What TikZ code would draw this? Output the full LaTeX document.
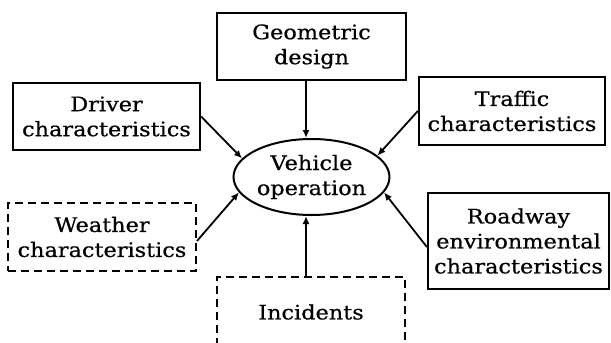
\documentclass[tikz,border=0pt]{standalone}
\usepackage{fontspec}
\setmainfont[FakeStretch=1.12,FakeBold=0.6]{DejaVu Serif}
\usetikzlibrary{positioning,shapes.geometric,arrows.meta}

\begin{document}
\begin{tikzpicture}[
            x=1pt, y=-1pt,
            factor/.style={rectangle, draw, line width=2.2pt, inner sep=0pt,
                       align=center, font=\fontsize{20}{25}\selectfont},
            unknown/.style={factor, line width=1.9pt, dash pattern=on 8pt off 5pt},
            outcome/.style={ellipse, draw, line width=2pt, inner sep=0pt,
                       minimum width=156pt, minimum height=76pt,
                       align=center, font=\fontsize{20}{25}\selectfont},
            arrow/.style={-{Latex[length=8pt,width=7pt]}, line width=1.8pt}
        ]
            \useasboundingbox (0,0) rectangle (611,343);
            \clip (0,0) rectangle (611,343);

            % Centre: what is influenced
            \node[outcome] (vehicle) at (311.5,177) {Vehicle\\operation};

            % Influencing factors
            \node[factor, minimum width=189pt, minimum height=67pt] (geometry) at (311.5,46.5) {Geometric\\design};
            \node[factor, minimum width=187pt, minimum height=67pt] (driver) at (106.5,116.5) {Driver\\characteristics};
            \node[factor, minimum width=186pt, minimum height=68pt] (traffic) at (512,111) {Traffic\\characteristics};
            \node[unknown, minimum width=188pt, minimum height=68pt] (weather) at (102,237) {Weather\\characteristics};
            \node[factor, minimum width=181pt, minimum height=96pt] (roadway) at (518.5,241) {Roadway\\environmental\\characteristics};
            \node[unknown, minimum width=188pt, minimum height=70pt] (incidents) at (311,312) {Incidents};

            % Arrows into the ellipse
            \draw[arrow, line width=2pt] ([xshift=-5.5pt]geometry.south) -- ([xshift=-5.5pt]vehicle.north);
            \draw[arrow] (driver.east) -- (vehicle.165);
            \draw[arrow] (traffic.west) -- (vehicle.18);
            \draw[arrow] ([yshift=-4pt]weather.east) -- (vehicle.192);
            \draw[arrow] ([yshift=-6pt]roadway.west) -- (vehicle.348);
            \draw[arrow, line width=2pt] ([xshift=-5pt]incidents.north) -- ([xshift=-5.5pt]vehicle.south);
        \end{tikzpicture}
\end{document}
